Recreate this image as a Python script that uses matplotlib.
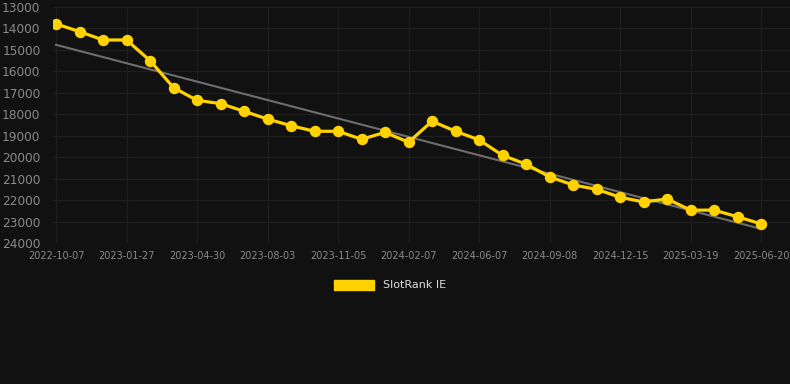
import matplotlib
matplotlib.use("Agg")
import matplotlib.pyplot as plt
import numpy as np

# ------------------------------------------
# Data

ranks = [
    13800, 14160, 14550, 14550, 15510, 16770, 17360, 17510, 17870, 18230,
    18540, 18800, 18800, 19170, 18850, 19310, 18330, 18800, 19200, 19920,
    20330, 20920, 21300, 21500, 21870, 22090, 21950, 22470, 22470, 22780,
    23110,
]
tick_labels = [
    "2022-10-07", "2023-01-27", "2023-04-30", "2023-08-03", "2023-11-05",
    "2024-02-07", "2024-06-07", "2024-09-08", "2024-12-15", "2025-03-19",
    "2025-06-20",
]
y_ticks = [13000, 14000, 15000, 16000, 17000, 18000, 19000, 20000, 21000,
           22000, 23000, 24000]
series_name = "SlotRank IE"

bg = "#111111"
yellow = "#ffd200"
grid_col = "#1e1e1e"
text_col = "#8a8a8a"

x = np.arange(len(ranks))
slope, icept = np.polyfit(x, ranks, 1)
trend = slope * x + icept

fig = plt.figure(figsize=(7.9, 3.84), dpi=100, facecolor=bg)
ax = fig.add_axes([53 / 790, 1 - 243 / 384, (790 - 53) / 790, (243 - 6.7) / 384])
ax.set_facecolor(bg)

ax.plot(x, trend, color="#6e6e6e", linewidth=1.5, zorder=2)
ax.plot(x, ranks, color=yellow, linewidth=2.3, marker="o",
        markersize=7.2, zorder=3, label=series_name)

ax.set_ylim(24000, 13000)
ax.set_xlim(-0.13, 31.23)
ax.set_yticks(y_ticks)
ax.set_yticklabels([str(v) for v in y_ticks])
ax.set_xticks(x[::3])
ax.set_xticklabels(tick_labels)

ax.grid(True, color=grid_col, linewidth=0.9)
ax.set_axisbelow(True)
for s in ax.spines.values():
    s.set_visible(False)
ax.tick_params(axis="y", colors=text_col, labelsize=8.7, length=0, pad=9)
ax.tick_params(axis="x", colors=text_col, labelsize=7, length=0, pad=6)

leg = fig.legend(handles=[plt.Rectangle((0, 0), 1, 1, color=yellow)],
                 labels=[series_name], loc="center", bbox_to_anchor=(390 / 790, 1 - 285 / 384),
                 frameon=False, handlelength=3.6, handleheight=1.0, fontsize=8)
for t in leg.get_texts():
    t.set_color("#dddddd")

fig.savefig("out.png", dpi=100, facecolor=bg)
